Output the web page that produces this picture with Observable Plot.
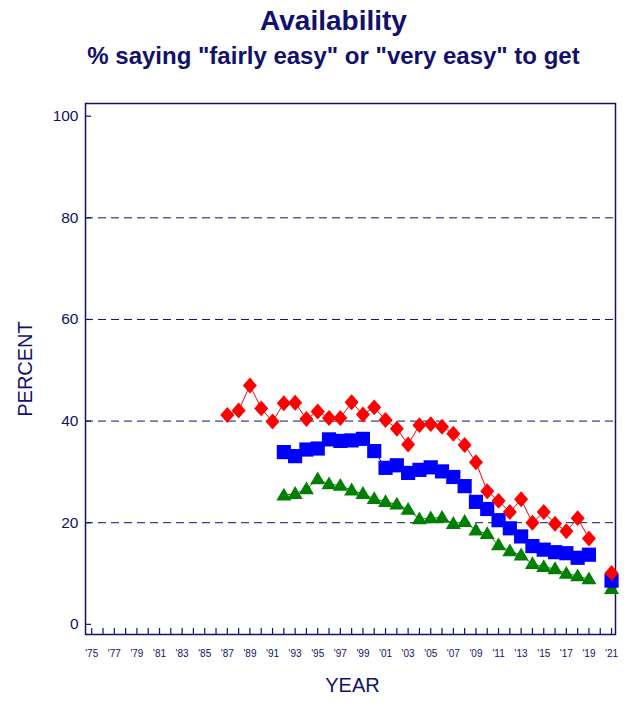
<!DOCTYPE html>
<html>
<head>
<meta charset="utf-8">
<script src="https://cdn.jsdelivr.net/npm/d3@7"></script>
<script src="https://cdn.jsdelivr.net/npm/@observablehq/plot@0.6"></script>
<style>
  html, body { margin: 0; padding: 0; background: #fff; }
  body { width: 627px; height: 704px; overflow: hidden; font-family: "Liberation Sans", Arial, sans-serif; }
  #head { height: 75px; box-sizing: border-box; padding-left: 40px; text-align: center; color: #10106e; white-space: nowrap; }
  #title { font-weight: bold; font-size: 28px; line-height: 32px; padding-top: 5px; }
  #subtitle { font-weight: bold; font-size: 24px; line-height: 28px; padding-top: 5px; }
</style>
</head>
<body>
<div id="head">
  <div id="title">Availability</div>
  <div id="subtitle">% saying "fairly easy" or "very easy" to get</div>
</div>
<div id="chart"></div>
<script>
const navy = "#10106e";

// Survey years
const years12 = [1987,1988,1989,1990,1991,1992,1993,1994,1995,1996,1997,1998,1999,2000,2001,2002,2003,2004,2005,2006,2007,2008,2009,2010,2011,2012,2013,2014,2015,2016,2017,2018,2019,2020,2021];
const years8and10 = [1992,1993,1994,1995,1996,1997,1998,1999,2000,2001,2002,2003,2004,2005,2006,2007,2008,2009,2010,2011,2012,2013,2014,2015,2016,2017,2018,2019,2020,2021];

// 12th grade (red diamonds)
const grade12 = [41.2,42.1,47.0,42.5,39.9,43.5,43.6,40.4,41.9,40.6,40.6,43.7,41.3,42.7,40.2,38.5,35.4,39.2,39.4,38.9,37.5,35.3,31.9,26.2,24.3,22.1,24.6,20.0,22.1,19.8,18.3,20.9,16.9,null,10.1];
// 10th grade (blue squares)
const grade10 = [33.9,33.1,34.4,34.6,36.4,36.1,36.2,36.5,34.1,30.8,31.3,29.8,30.4,30.9,30.1,29.0,27.2,24.1,22.7,20.5,18.9,17.3,15.4,14.7,14.2,14.0,13.1,13.7,null,8.6];
// 8th grade (green triangles)
const grade8 = [25.4,25.7,26.6,28.6,27.6,27.3,26.4,25.7,24.7,24.1,23.6,22.6,20.7,20.9,21.0,19.8,20.2,18.5,17.8,15.6,14.4,13.6,11.9,11.3,10.9,10.0,9.5,8.9,null,7.0];

const yTicks = [0,20,40,60,80,100];
const gridValues = [20,40,60,80];
const xTickYears = d3.range(1975, 2022);
const xLabelYears = d3.range(1975, 2022, 2);

const rows = (years, values, grade) => years.map((year, i) => ({year, value: values[i], grade}));
const d8 = rows(years8and10, grade8, "8th");
const d10 = rows(years8and10, grade10, "10th");
const d12 = rows(years12, grade12, "12th");

// custom symbols
const diamond = {
  draw(ctx, size) {
    const s = Math.sqrt(size);
    const w = s * 0.44, h = s * 0.5;
    ctx.moveTo(0, -h); ctx.lineTo(w, 0); ctx.lineTo(0, h); ctx.lineTo(-w, 0); ctx.closePath();
  }
};
const square = {
  draw(ctx, size) {
    const s = Math.sqrt(size) * 0.5;
    ctx.moveTo(-s, -s); ctx.lineTo(s, -s); ctx.lineTo(s, s); ctx.lineTo(-s, s); ctx.closePath();
  }
};
const triangle = {
  draw(ctx, size) {
    const s = Math.sqrt(size);
    const w = s * 0.5, h = s * 0.46;
    ctx.moveTo(0, -h * 1.1); ctx.lineTo(w, h * 0.75); ctx.lineTo(-w, h * 0.75); ctx.closePath();
  }
};

const chart = Plot.plot({
  width: 627,
  height: 629,
  marginTop: 28,
  marginBottom: 70,
  marginLeft: 85,
  marginRight: 12,
  x: {domain: [1974.45, 2021.35]},
  y: {domain: [-2, 102.5]},
  style: {fontFamily: "'Liberation Sans', Arial, sans-serif", color: navy, background: "#fff"},
  marks: [
    Plot.ruleY(gridValues, {stroke: navy, strokeWidth: 1, strokeDasharray: "8,5"}),
    Plot.axisY({ticks: yTicks, tickSize: 0, tickPadding: 7, fontSize: 15.5, stroke: navy, fill: navy, label: null}),
    Plot.axisY({ticks: yTicks, tickSize: -6, tickFormat: () => "", stroke: navy, strokeWidth: 1.2, label: null}),
    Plot.axisX({ticks: xLabelYears, tickSize: 0, tickPadding: 15, fontSize: 10, fill: navy, tickFormat: d => "'" + String(d).slice(2), label: null}),
    Plot.axisX({ticks: xTickYears, tickSize: -6, tickFormat: () => "", stroke: navy, strokeWidth: 1.2, label: null}),
    Plot.frame({stroke: navy, strokeWidth: 1.5}),
    Plot.text(["PERCENT"], {frameAnchor: "left", textAnchor: "middle", dx: -60, rotate: -90, fontSize: 20, fill: navy}),
    Plot.text(["YEAR"], {frameAnchor: "bottom", textAnchor: "middle", dy: 57, dx: 2, fontSize: 20, fill: navy}),
    Plot.line(d8, {x: "year", y: "value", stroke: "#008000", strokeWidth: 1}),
    Plot.dot(d8, {x: "year", y: "value", symbol: triangle, r: 8.5, fill: "#008000", stroke: "none"}),
    Plot.line(d10, {x: "year", y: "value", stroke: "#0000ff", strokeWidth: 1}),
    Plot.dot(d10, {x: "year", y: "value", symbol: square, r: 8, fill: "#0000ff", stroke: "none"}),
    Plot.line(d12, {x: "year", y: "value", stroke: "#ff0000", strokeWidth: 1}),
    Plot.dot(d12, {x: "year", y: "value", symbol: diamond, r: 9, fill: "#ff0000", stroke: "none"})
  ]
});
document.getElementById("chart").appendChild(chart);
</script>
</body>
</html>
